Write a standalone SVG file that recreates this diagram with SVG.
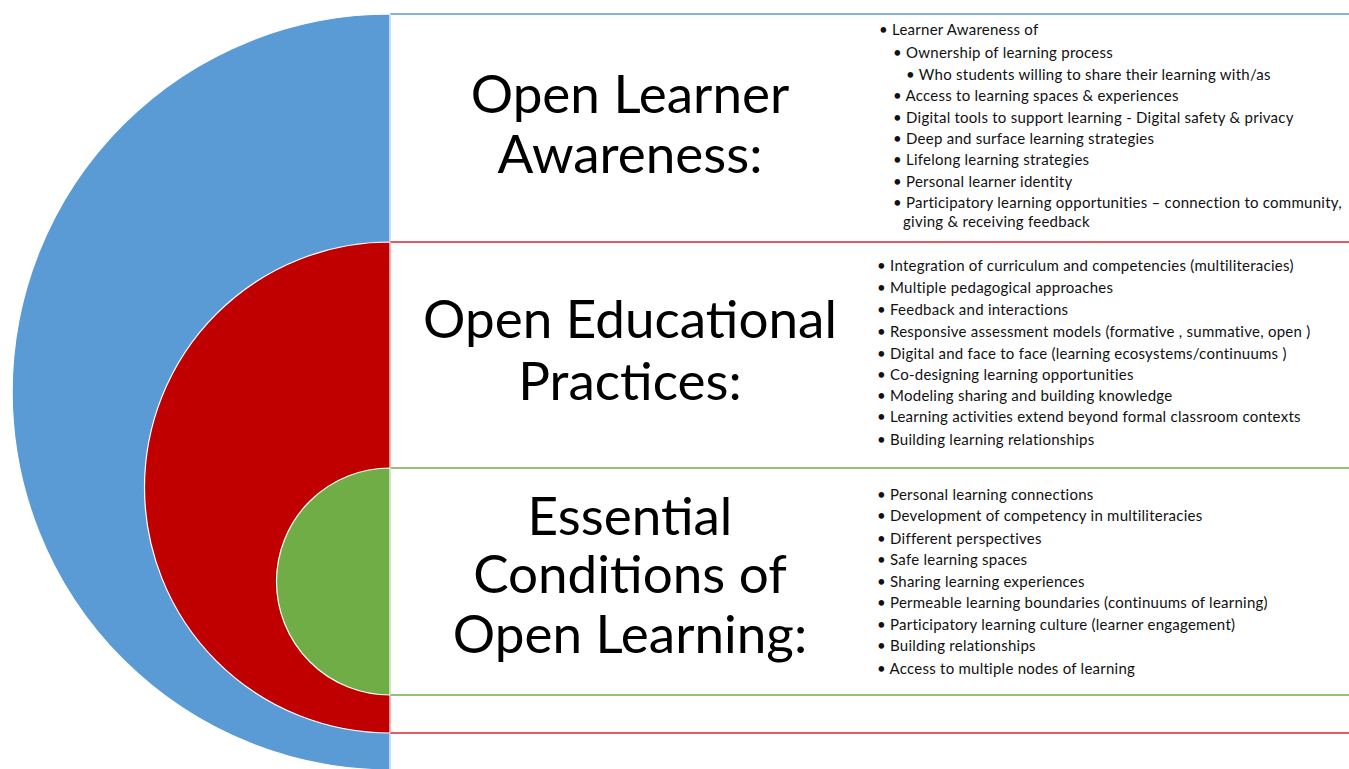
<svg xmlns="http://www.w3.org/2000/svg" width="1349" height="769" viewBox="0 0 1349 769">
<style>
.title{font-family:Lato,"Open Sans",sans-serif;font-size:53px;fill:#000;text-anchor:middle}
.b{font-family:Lato,"Open Sans",sans-serif;font-size:15px;letter-spacing:0.25px;fill:#111}
.box{fill:#fff;stroke-width:1.5}
.arc{stroke:#fff;stroke-width:1.2}
</style>
<rect width="1349" height="769" fill="#fff"/>
<g id="outer">
<rect class="box" x="390" y="14" width="1000" height="790" stroke="#5B9BD5"/>
<path class="arc" d="M390,14 A378,378 0 0 0 390,770 Z" fill="#5B9BD5"/>
<text class="title" x="630" y="113">Open Learner</text>
<text class="title" x="630" y="173">Awareness:</text>
<g class="b">
<text x="879" y="35">• Learner Awareness of</text>
<text x="893" y="58">• Ownership of learning process</text>
<text x="906" y="80">• Who students willing to share their learning with/as</text>
<text x="893" y="101">• Access to learning spaces &amp; experiences</text>
<text x="893" y="123">• Digital tools to support learning  - Digital safety &amp; privacy</text>
<text x="893" y="144">• Deep and surface learning strategies</text>
<text x="893" y="165">• Lifelong learning strategies</text>
<text x="893" y="187">• Personal learner identity</text>
<text x="893" y="208">• Participatory learning opportunities – connection to community,</text>
<text x="903" y="227">giving &amp; receiving feedback</text>
</g>
</g>
<g id="middle">
<rect class="box" x="390" y="242" width="1000" height="491" stroke="#D9262C"/>
<path class="arc" d="M390,242 A245.5,245.5 0 0 0 390,733 Z" fill="#C00000"/>
<text class="title" x="630" y="338">Open Educational</text>
<text class="title" x="630" y="400">Practices:</text>
<g class="b">
<text x="877" y="271">• Integration of curriculum and competencies (multiliteracies)</text>
<text x="877" y="293">• Multiple pedagogical approaches</text>
<text x="877" y="315">• Feedback and  interactions</text>
<text x="877" y="337">• Responsive assessment models (formative , summative, open )</text>
<text x="877" y="358.5">• Digital and  face  to  face (learning ecosystems/continuums )</text>
<text x="877" y="379.5">•  Co-designing learning opportunities</text>
<text x="877" y="401">• Modeling sharing and building knowledge</text>
<text x="877" y="422">• Learning activities extend beyond formal classroom contexts</text>
<text x="877" y="444.5">• Building learning relationships</text>
</g>
</g>
<g id="inner">
<rect class="box" x="390" y="468" width="1000" height="227" stroke="#70AD47"/>
<path class="arc" d="M390,468 A113.5,113.5 0 0 0 390,695 Z" fill="#70AD47"/>
<text class="title" x="630" y="535">Essential</text>
<text class="title" x="630" y="593">Conditions of</text>
<text class="title" x="630" y="653">Open Learning:</text>
<g class="b">
<text x="877" y="499.5">• Personal  learning connections</text>
<text x="877" y="521">• Development  of competency in multiliteracies</text>
<text x="877" y="544">• Different  perspectives</text>
<text x="877" y="565">•  Safe  learning spaces</text>
<text x="877" y="587">•  Sharing  learning experiences</text>
<text x="877" y="608">• Permeable  learning boundaries (continuums of  learning)</text>
<text x="877" y="629.5">• Participatory  learning culture  (learner engagement)</text>
<text x="877" y="650.5">• Building  relationships</text>
<text x="877" y="673.5">•  Access to multiple nodes of learning</text>
</g>
</g>
<g id="connectors"/>
</svg>
